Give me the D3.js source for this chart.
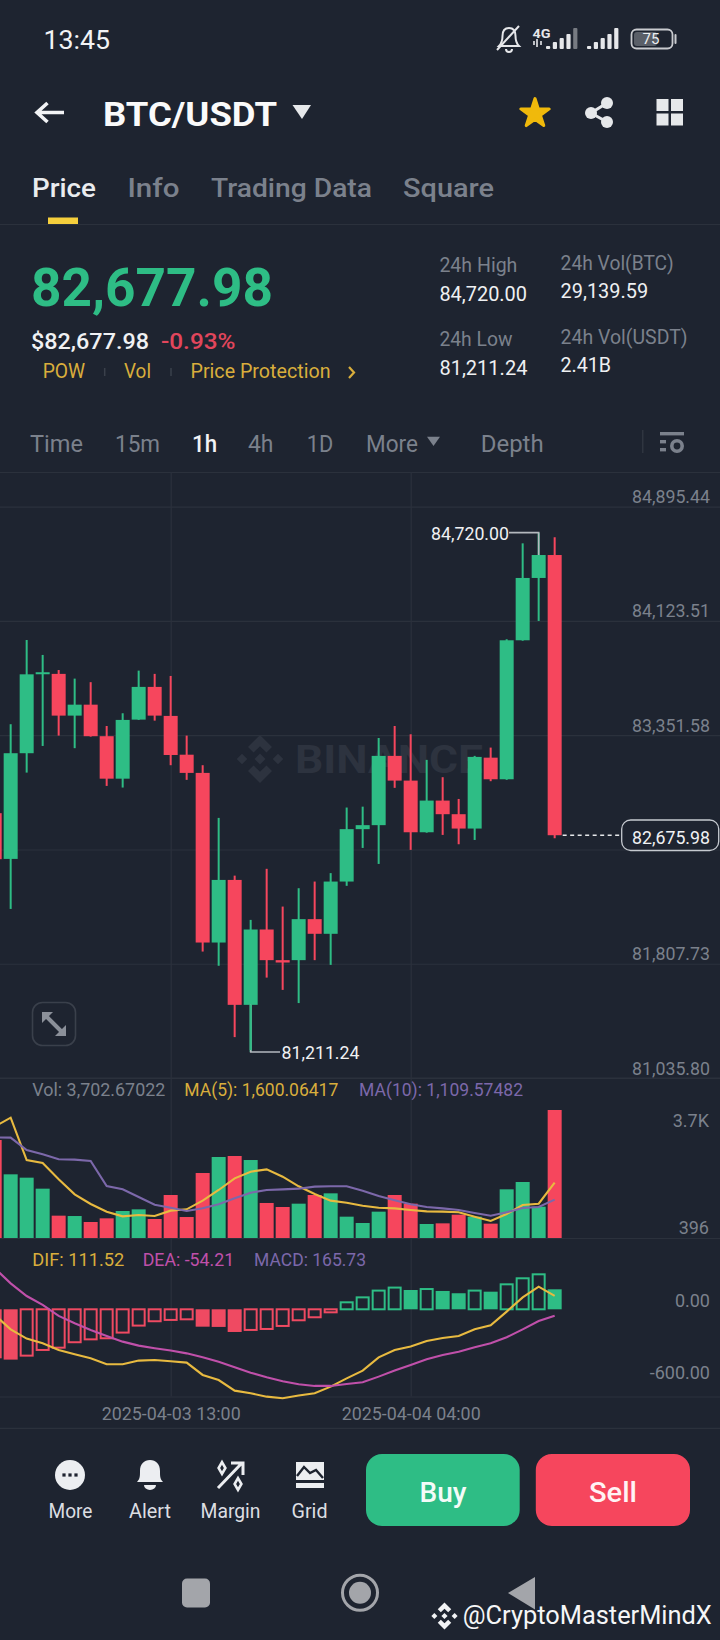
<!DOCTYPE html>
<html><head><meta charset="utf-8">
<script src="https://cdn.jsdelivr.net/npm/d3@7"></script>
<style>html,body{margin:0;padding:0;background:#1e2430;overflow:hidden}svg{display:block}text{font-family:Roboto,sans-serif}</style>
</head><body><svg id="c" width="720" height="1640"></svg>
<script>
const opens=[82825,82516,83230,83764,83766,83484,83558,83345,83058,83457,83678,83482,83220,83097,81951,82374,81530,82039,81832,81832,82109,82010,82363,82717,82744,83212,83045,82696,82910,82818,82721,83200,83054,83993,84414,84569];
const closes=[82514,83230,83763,83777,83484,83558,83345,83058,83455,83678,83484,83218,83097,81951,82374,81530,82039,81832,81816,82109,82010,82363,82717,82744,83212,83045,82696,82910,82818,82721,83205,83054,83993,84414,84569,82675.98];
const highs=[82860,83426,83995,83894,83792,83734,83710,83414,83500,83788,83766,83752,83349,83149,82793,82403,82104,82449,82194,82318,82363,82420,82863,82869,83333,83414,83358,83185,83068,82921,83212,83268,84000,84648,84720,84689];
const lows=[82480,82178,83099,83279,83349,83264,83342,83009,82998,83455,83450,83149,83050,81890,81794,81312,81211.24,81714,81631,81542,81832,81800,82334,82590,82482,82996,82577,82693,82678,82615,82644,83041,83050,83990,84123.5,82656];
const volumes=[2835,1842,1745,1427,646,636,463,569,781,829,550,1244,607,1880,2343,2372,2256,1013,897,993,1244,1292,617,434,762,1244,993,405,424,675,617,415,1408,1620,906,3702.67];
const ma5=[3221,3481,2256,2170,1697,1263,984,762,627,665,636,791,829,1080,1389,1726,1919,1986,1774,1495,1273,1080,1022,935,877,858,810,771,762,743,617,492,694,955,993,1600.06];
const ma10=[2912,2903,2546,2420,2276,2266,2228,1504,1408,1186,964,877,781,858,974,1147,1311,1389,1408,1427,1485,1495,1495,1369,1215,1090,974,897,858,810,723,646,743,868,897,1109.57];
const dif=[-47,-166,-243,-282,-337,-373,-406,-456,-456,-425,-420,-431,-442,-544,-586,-674,-696,-724,-737,-715,-696,-641,-572,-508,-398,-337,-309,-262,-238,-221,-166,-133,-19,99,188,111.52];
const dea=[340,215,110,36,-55,-116,-171,-221,-268,-301,-323,-342,-365,-398,-434,-481,-525,-563,-597,-621,-635,-635,-619,-605,-558,-508,-461,-414,-378,-351,-315,-282,-232,-166,-97,-54.21];
const macd=[-406,-417,-384,-337,-318,-273,-249,-240,-193,-135,-99,-88,-83,-144,-146,-188,-171,-163,-138,-91,-66,-25,58,99,155,180,160,168,152,133,155,146,207,257,290,165.73];
const priceGrid=[84895.44,84123.51,83351.58,82579.65,81807.73,81035.80];
const priceTicks=[84895.44,84123.51,83351.58,81807.73,81035.80];
const lastPrice=82675.98, highPrice=84720, lowPrice=81211.24;
const volTicks=[3702.67,396], volTickLabels=["3.7K","396"];
const macdTicks=[0,-600], macdTickLabels=["0.00","-600.00"];
const timeIdx=[11,26], timeLabels=["2025-04-03 13:00","2025-04-04 04:00"];

const GREEN="#2ebd85",RED="#f6465d",GRID="#2b313c",MUTED="#7b818c",GOLD="#d9ae3c",PURPLE="#7c68aa",PINK="#c050aa",YEL="#e8ba40";
const svg=d3.select("#c");
const fmt=d3.format(",.2f");
const idx=d3.range(opens.length);
const x=d3.scaleLinear().domain([0,35]).range([-5.33,554.67]);
const yP=d3.scaleLinear().domain([84895.44,81035.80]).range([506.7,1078]);
const yV=d3.scaleLinear().domain([0,3702.67]).range([1238,1110]);
const yM=d3.scaleLinear().domain([0,-600]).range([1309.3,1381.7]);
const BW=14;
function T(px,py,s,size,color,o={}){const e=(o.g||svg).append("text").attr("x",px).attr("y",py).attr("font-size",size).attr("fill",color).text(s);
 if(o.w){e.attr("textLength",o.w).attr("lengthAdjust","spacingAndGlyphs")} if(o.a)e.attr("text-anchor",o.a); if(o.b)e.attr("font-weight",o.b); return e}
function logo(cx,cy,r,fill){const g=svg.append("g").attr("transform",`translate(${cx},${cy}) scale(${r})`).attr("fill",fill);
 const ps=["0,-1 .5,-.5 .27,-.27 0,-.53 -.27,-.27 -.5,-.5","0,1 .5,.5 .27,.27 0,.53 -.27,.27 -.5,.5","0,-.23 .23,0 0,.23 -.23,0","-.75,-.22 -.53,0 -.75,.22 -.97,0",".75,-.22 .97,0 .75,.22 .53,0"];
 ps.forEach(p=>g.append("polygon").attr("points",p));}

// status bar
T(43.5,48.5,"13:45",26,"#f2f3f5",{w:66.5});
const st=svg.append("g").attr("fill","none").attr("stroke","#e6e7ea").attr("stroke-width",2);
st.append("path").attr("d","M499 46 h20 c-3-3-3.5-6-3.5-10 c0-5-2.5-8-6.5-8 c-4 0-6.5 3-6.5 8 c0 4-.5 7-3.5 10z M506 49 a3 3 0 0 0 6 0");
st.append("path").attr("d","M497 50 L519 26");
T(532.5,37.5,"4G",13,"#e6e7ea",{w:18,b:700});
function sig(x0,bars,ext){const hs=[3,7,11,15,21];hs.slice(0,bars).forEach((h,i)=>svg.append("rect").attr("x",x0+i*6.8).attr("y",49-h).attr("width",4.2).attr("height",h).attr("rx",1).attr("fill",ext&&i===4?"#777b82":"#e6e7ea"))}
sig(546,5,true);sig(587,5,false);
svg.append("path").attr("d","M534 41 v4 M537 39 v8 M541 41 v4").attr("stroke","#e6e7ea").attr("stroke-width",1.6);
svg.append("rect").attr("x",631.5).attr("y",29.5).attr("width",41).attr("height",19).attr("rx",5).attr("fill","none").attr("stroke","#c9cbcf").attr("stroke-width",1.8);
svg.append("rect").attr("x",634).attr("y",32).attr("width",23).attr("height",14).attr("rx",3).attr("fill","#5a5f68");
svg.append("rect").attr("x",674.5).attr("y",34).attr("width",2).attr("height",10).attr("rx",1).attr("fill","#c9cbcf");
T(651,44,"75",15,"#eceef0",{a:"middle"});

// header
svg.append("path").attr("d","M64 112.5 H38 M47.5 103 L37 112.5 L47.5 122").attr("fill","none").attr("stroke","#f2f3f5").attr("stroke-width",3.6);
T(103,125.5,"BTC/USDT",33,"#fafafa",{w:174,b:700});
svg.append("path").attr("d","M292.5 105 H311 L302 119Z").attr("fill","#e6e8ea");
svg.append("path").attr("transform","translate(535,113.5)").attr("d",d3.symbol(d3.symbolStar,250)()).attr("fill","#f0b90b").attr("stroke","#f0b90b").attr("stroke-width",3).attr("stroke-linejoin","round");
const sh=svg.append("g").attr("fill","#e6e8ea");
[[607,103],[591,113],[607,122]].forEach(p=>sh.append("circle").attr("cx",p[0]).attr("cy",p[1]).attr("r",6));
svg.append("path").attr("d","M607 103 L591 113 L607 122").attr("fill","none").attr("stroke","#e6e8ea").attr("stroke-width",3);
[[656.5,99],[671,99],[656.5,113.5],[671,113.5]].forEach(p=>svg.append("rect").attr("x",p[0]).attr("y",p[1]).attr("width",12).attr("height",12).attr("fill","#e6e8ea"));

// tabs
T(32,197,"Price",26,"#eaecef",{w:64,b:500});
T(127.5,197,"Info",26,MUTED,{w:52,b:500});
T(211,197,"Trading Data",26,MUTED,{w:161,b:500});
T(403,197,"Square",26,MUTED,{w:91,b:500});
svg.append("rect").attr("x",48).attr("y",217.5).attr("width",30).attr("height",6.5).attr("fill","#f5cf3c");
svg.append("line").attr("x1",0).attr("x2",720).attr("y1",224.5).attr("y2",224.5).attr("stroke",GRID).attr("stroke-width",1.2);

// price block
T(31,305.7,"82,677.98",54,GREEN,{w:242,b:700});
T(31,349,"$82,677.98",22,"#f0f1f3",{w:118,b:500});
T(161,349,"-0.93%",22,"#e2465c",{w:74.5,b:500});
T(42.7,378,"POW",19.5,GOLD,{w:42.5});
T(124,378,"Vol",19.5,GOLD,{w:27});
T(190.5,378,"Price Protection",19.5,GOLD,{w:140});
svg.append("path").attr("d","M349 367 L354 372.5 L349 378").attr("fill","none").attr("stroke",GOLD).attr("stroke-width",2.2);
svg.append("path").attr("d","M104.7 368 V376 M171 368 V376").attr("stroke","#3a404b").attr("stroke-width",1.5);
T(439.4,272,"24h High",20,MUTED,{w:78});
T(439.4,301,"84,720.00",20,"#eef0f2",{w:87.6});
T(560.6,270,"24h Vol(BTC)",20,MUTED,{w:113});
T(560.6,298,"29,139.59",20,"#eef0f2",{w:87.5});
T(439.4,346,"24h Low",20,MUTED,{w:73});
T(439.4,374.7,"81,211.24",20,"#eef0f2",{w:88});
T(560.6,344,"24h Vol(USDT)",20,MUTED,{w:127});
T(560.6,372,"2.41B",20,"#eef0f2",{w:50.5});

// interval row
T(30,451.7,"Time",24,MUTED,{w:53});
T(115,451.7,"15m",24,MUTED,{w:45});
T(192,451.7,"1h",24,"#f2f3f5",{w:25,b:500});
T(248,451.7,"4h",24,MUTED,{w:25.5});
T(306.7,451.7,"1D",24,MUTED,{w:26.5});
T(366,451.7,"More",24,MUTED,{w:52});
svg.append("path").attr("d","M427 436.7 H440 L433.5 446Z").attr("fill",MUTED);
T(480.7,451.7,"Depth",24,MUTED,{w:63});
svg.append("line").attr("x1",642.8).attr("x2",642.8).attr("y1",430).attr("y2",453).attr("stroke","#343a45").attr("stroke-width",1.2);
const si=svg.append("g").attr("fill",MUTED);
si.append("rect").attr("x",660).attr("y",432).attr("width",24).attr("height",3.4);
si.append("rect").attr("x",660).attr("y",440).attr("width",6).attr("height",3.4);
si.append("rect").attr("x",660).attr("y",448).attr("width",6).attr("height",3.4);
si.append("circle").attr("cx",677).attr("cy",446).attr("r",5.2).attr("fill","none").attr("stroke",MUTED).attr("stroke-width",3.6);

// chart frame
svg.append("line").attr("x1",0).attr("x2",720).attr("y1",472.5).attr("y2",472.5).attr("stroke",GRID).attr("stroke-width",1.2);
[1078,1238.5,1397,1428.3].forEach(v=>svg.append("line").attr("x1",0).attr("x2",720).attr("y1",v).attr("y2",v).attr("stroke",GRID).attr("stroke-width",1.2));
const gridH=svg.append("g").call(d3.axisRight(yP).tickValues(priceGrid).tickSize(720).tickFormat(""));
gridH.select(".domain").remove();gridH.selectAll("line").attr("stroke",GRID).attr("stroke-width",1.2);
const gridV=svg.append("g").attr("transform","translate(0,472.5)").call(d3.axisBottom(x).tickValues(timeIdx).tickSize(924).tickFormat(""));
gridV.select(".domain").remove();gridV.selectAll("line").attr("stroke",GRID).attr("stroke-width",1.2);

// watermark
logo(260,759,24,"#2d333f");
T(295,773,"BINANCE",38,"#2d333f",{w:188,b:700});

// price axis
const ax=svg.append("g").attr("transform","translate(710,0)").call(d3.axisRight(yP).tickValues(priceTicks).tickSize(0).tickFormat(fmt));
ax.select(".domain").remove();
ax.selectAll("text").attr("x",0).attr("dy",-4).attr("text-anchor","end").attr("font-size",18).attr("fill",MUTED).attr("font-family","Roboto,sans-serif").attr("textLength",78).attr("lengthAdjust","spacingAndGlyphs");

// candles
const cc=i=>closes[i]>=opens[i]?GREEN:RED;
const candles=svg.append("g");
candles.selectAll("line").data(idx).join("line").attr("x1",x).attr("x2",x).attr("y1",i=>yP(highs[i])).attr("y2",i=>yP(lows[i])).attr("stroke",cc).attr("stroke-width",2);
candles.selectAll("rect").data(idx).join("rect").attr("x",i=>x(i)-BW/2).attr("width",BW)
 .attr("y",i=>yP(Math.max(opens[i],closes[i]))).attr("height",i=>Math.max(2,Math.abs(yP(opens[i])-yP(closes[i])))).attr("fill",cc);

// hi/lo annotations
const hi=highs.indexOf(highPrice),lo=lows.indexOf(lowPrice);
svg.append("path").attr("d",`M509 ${yP(highPrice)} H${x(hi)} V${yP(opens[hi]>closes[hi]?opens[hi]:closes[hi])}`).attr("fill","none").attr("stroke","#b4b8be").attr("stroke-width",1.6);
T(431,540,fmt(highPrice),18.5,"#f0f1f3",{w:78});
svg.append("path").attr("d",`M${x(lo)} ${yP(opens[lo])} V${yP(lowPrice)} H280`).attr("fill","none").attr("stroke","#b4b8be").attr("stroke-width",1.6);
svg.append("line").attr("x1",x(lo)).attr("x2",x(lo)).attr("y1",yP(opens[lo])).attr("y2",yP(lowPrice)-2).attr("stroke",GREEN).attr("stroke-width",2);
T(281.5,1059,fmt(lowPrice),18.5,"#f0f1f3",{w:78});

// last price
svg.append("line").attr("x1",x(35)+8).attr("x2",621).attr("y1",yP(lastPrice)).attr("y2",yP(lastPrice)).attr("stroke","#e6e8ea").attr("stroke-width",1.4).attr("stroke-dasharray","4,3.5");
svg.append("rect").attr("x",621.7).attr("y",820).attr("width",97).attr("height",30.5).attr("rx",9).attr("fill","#1e2430").attr("stroke","#c6cad0").attr("stroke-width",1.3);
T(632,844,fmt(lastPrice),18.5,"#f0f1f3",{w:78});

// expand
svg.append("rect").attr("x",32.5).attr("y",1002.5).attr("width",43).attr("height",43).attr("rx",10).attr("fill","none").attr("stroke","#3a404b").attr("stroke-width",1.6);
const ex=svg.append("g").attr("fill","#8b9099");
ex.append("path").attr("d","M42 1012 H53 L42 1023Z");ex.append("path").attr("d","M66 1036 H55 L66 1025Z");
svg.append("path").attr("d","M46 1016 L62 1032").attr("stroke","#8b9099").attr("stroke-width",4);

// volume panel
T(32.3,1096,"Vol: 3,702.67022",18,MUTED,{w:133});
T(184.3,1096,"MA(5): 1,600.06417",18,GOLD,{w:154});
T(359,1096,"MA(10): 1,109.57482",18,PURPLE,{w:164});
svg.append("g").selectAll("rect").data(idx).join("rect").attr("x",i=>x(i)-BW/2).attr("width",BW).attr("y",i=>yV(volumes[i])).attr("height",i=>yV(0)-yV(volumes[i])).attr("fill",cc);
const lineV=d3.line().x((d,i)=>x(i)).y(d=>yV(d));
svg.append("path").attr("d",lineV(ma5)).attr("fill","none").attr("stroke",YEL).attr("stroke-width",2.1);
svg.append("path").attr("d",lineV(ma10)).attr("fill","none").attr("stroke",PURPLE).attr("stroke-width",2.1);
const vx=svg.append("g").attr("transform","translate(709,0)").call(d3.axisRight(yV).tickValues(volTicks).tickSize(0).tickFormat((d,i)=>volTickLabels[i]));
vx.select(".domain").remove();
vx.selectAll("text").attr("x",0).attr("dy",(d,i)=>i===0?16.5:9).attr("text-anchor","end").attr("font-size",18).attr("fill",MUTED).attr("font-family","Roboto,sans-serif");

// MACD panel
T(32.3,1266,"DIF: 111.52",18,GOLD,{w:92});
T(142.7,1266,"DEA: -54.21",18,PINK,{w:91.5});
T(254,1266,"MACD: 165.73",18,PURPLE,{w:112});
const mc=d=>d>=0?GREEN:"#ef4a62";
const hollow=i=>i>0&&macd[i]>macd[i-1];
svg.append("g").selectAll("rect").data(idx).join("rect")
 .attr("x",i=>x(i)-BW/2+(hollow(i)?1:0)).attr("width",i=>hollow(i)?BW-2:BW)
 .attr("y",i=>Math.min(yM(0),yM(macd[i]))).attr("height",i=>Math.abs(yM(macd[i])-yM(0)))
 .attr("fill",i=>hollow(i)?"none":mc(macd[i])).attr("stroke",i=>hollow(i)?mc(macd[i]):"none").attr("stroke-width",2);
const lineM=d3.line().x((d,i)=>x(i)).y(d=>yM(d));
svg.append("path").attr("d",lineM(dif)).attr("fill","none").attr("stroke",YEL).attr("stroke-width",2.1);
svg.append("path").attr("d",lineM(dea)).attr("fill","none").attr("stroke",PINK).attr("stroke-width",2.1);
const mx=svg.append("g").attr("transform","translate(710,0)").call(d3.axisRight(yM).tickValues(macdTicks).tickSize(0).tickFormat((d,i)=>macdTickLabels[i]));
mx.select(".domain").remove();
mx.selectAll("text").attr("x",0).attr("dy",-3).attr("text-anchor","end").attr("font-size",18).attr("fill",MUTED).attr("font-family","Roboto,sans-serif");

// time axis
const tx=svg.append("g").attr("transform","translate(0,1420)").call(d3.axisBottom(x).tickValues(timeIdx).tickSize(0).tickFormat((d,i)=>timeLabels[i]));
tx.select(".domain").remove();
tx.selectAll("text").attr("y",0).attr("dy",0).attr("text-anchor","middle").attr("font-size",18).attr("fill",MUTED).attr("font-family","Roboto,sans-serif").attr("textLength",139).attr("lengthAdjust","spacingAndGlyphs");

// bottom bar
const ICON="#eceef1";
svg.append("circle").attr("cx",70).attr("cy",1475).attr("r",15).attr("fill",ICON);
[-6,0,6].forEach(d=>svg.append("rect").attr("x",70+d-1.6).attr("y",1473.4).attr("width",3.2).attr("height",3.2).attr("fill","#1e2430"));
svg.append("path").attr("d","M137 1482 c3-3 3-6 3-11 c0-7 4-11 10-11 c6 0 10 4 10 11 c0 5 0 8 3 11z M144 1485 h12 a6 5 0 0 1 -12 0z").attr("fill",ICON);
svg.append("path").attr("d","M218 1488 L241 1464 M231 1463 H243 V1475").attr("fill","none").attr("stroke",ICON).attr("stroke-width",3);
svg.append("path").attr("transform","translate(222,1468)").attr("d",d3.symbol(d3.symbolDiamond,40)()).attr("fill","none").attr("stroke",ICON).attr("stroke-width",2.6);
svg.append("path").attr("transform","translate(238,1484)").attr("d",d3.symbol(d3.symbolDiamond,40)()).attr("fill","none").attr("stroke",ICON).attr("stroke-width",2.6);
svg.append("path").attr("d","M296 1462 H324 V1480 H296Z").attr("fill",ICON);
svg.append("path").attr("d","M297 1476 L304 1467 L310 1473 L316 1470 L323 1478").attr("fill","none").attr("stroke","#1e2430").attr("stroke-width",2.4);
svg.append("rect").attr("x",296).attr("y",1483).attr("width",28).attr("height",5).attr("fill",ICON);
[[70.5,"More",44],[150,"Alert",42],[230.5,"Margin",60],[309.5,"Grid",36]].forEach(d=>T(d[0],1517.7,d[1],20,"#dcdee2",{a:"middle",w:d[2]}));
svg.append("rect").attr("x",366).attr("y",1454).attr("width",153.7).attr("height",72).attr("rx",16).attr("fill",GREEN);
svg.append("rect").attr("x",535.8).attr("y",1454).attr("width",154.2).attr("height",72).attr("rx",16).attr("fill",RED);
T(443,1501.7,"Buy",28,"#f4fbf8",{a:"middle",b:500,w:47});
T(613,1501.7,"Sell",28,"#fff3f5",{a:"middle",b:500,w:48});

// nav
svg.append("rect").attr("x",182).attr("y",1578.5).attr("width",28).attr("height",29).attr("rx",5).attr("fill","#a3a5aa");
svg.append("circle").attr("cx",360).attr("cy",1592.7).attr("r",17.5).attr("fill","none").attr("stroke","#a3a5aa").attr("stroke-width",3);
svg.append("circle").attr("cx",360).attr("cy",1592.7).attr("r",11).attr("fill","#a3a5aa");
svg.append("path").attr("d","M535 1577 V1609.5 L508 1593Z").attr("fill","#a3a5aa");

// credit
logo(444.5,1616,13.5,"#f2f3f5");
T(462.8,1624,"@CryptoMasterMindX",25,"#f5f6f7",{w:249});
</script></body></html>
